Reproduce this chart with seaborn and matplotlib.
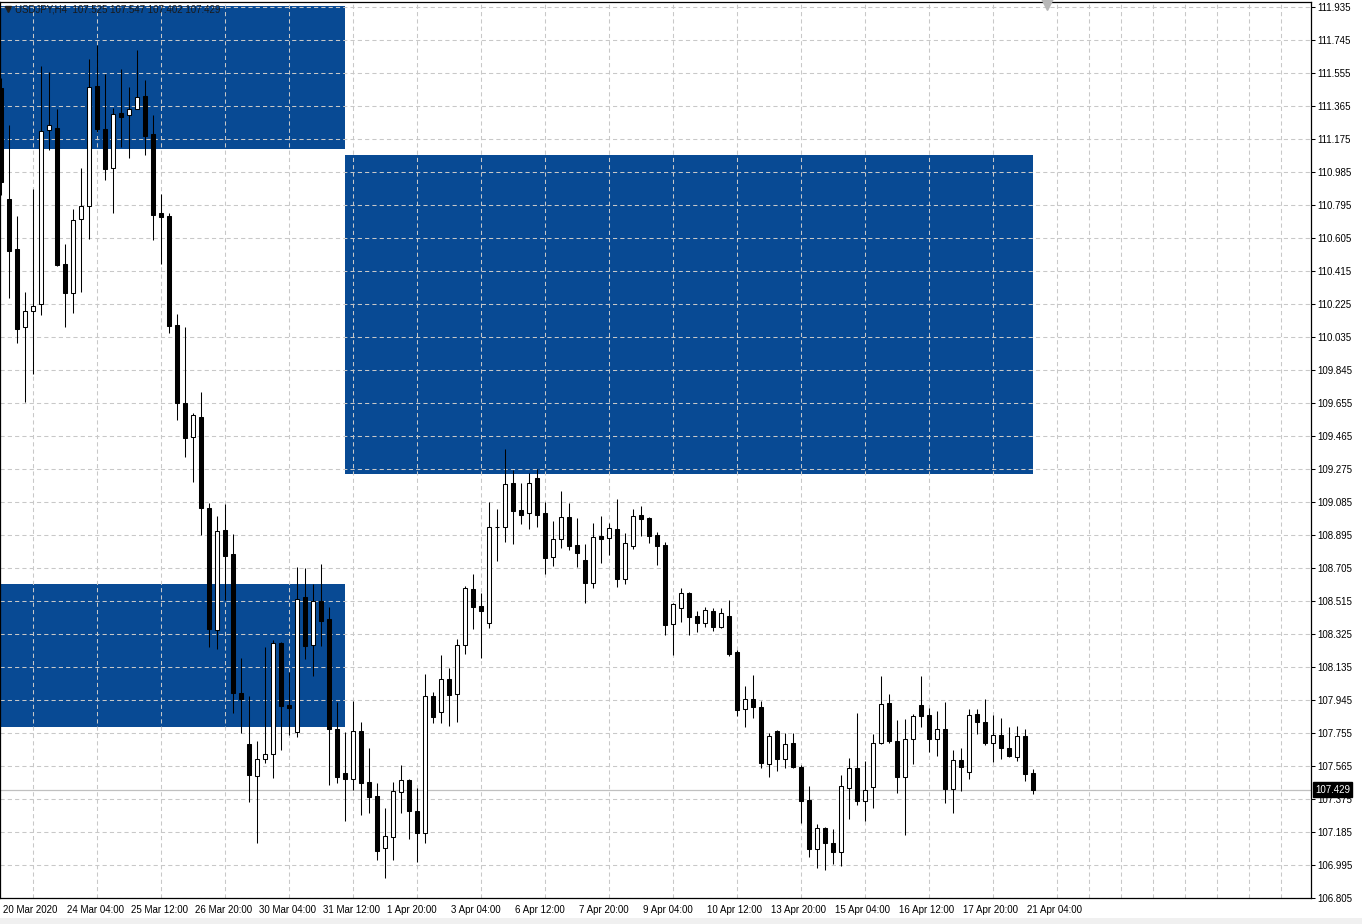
import numpy as np
import pandas as pd
import matplotlib
matplotlib.use("Agg")
import matplotlib.pyplot as plt
import matplotlib.transforms as mtransforms
from matplotlib.patches import Rectangle
import seaborn as sns

# ---------------- data ----------------
title_text = "USDJPY,H4  107.525 107.547 107.402 107.429"

opens = [111.469, 110.830, 110.542, 110.093, 110.185, 110.225, 111.227, 111.238, 110.455, 110.288,
         110.714, 110.789, 111.480, 111.233, 111.008, 111.325, 111.313, 111.348, 111.423, 111.204,
         110.749, 110.732, 110.104, 109.655, 109.459, 109.574, 109.050, 108.348, 108.924, 108.786,
         107.985, 107.692, 107.507, 107.605, 107.634, 108.273, 107.916, 107.761, 108.538, 108.262,
         108.515, 108.411, 107.778, 107.525, 107.490, 107.767, 107.473, 107.392, 107.093, 107.156,
         107.415, 107.484, 107.306, 107.179, 107.968, 107.876, 108.066, 107.980, 108.262, 108.584,
         108.486, 108.388, 108.941, 108.941, 109.194, 109.039, 109.022, 109.223, 109.022, 108.768,
         108.872, 108.999, 108.837, 108.751, 108.619, 108.889, 108.878, 108.930, 108.642, 108.832,
         109.010, 108.993, 108.895, 108.837, 108.383, 108.475, 108.561, 108.429, 108.388, 108.457,
         108.365, 108.429, 108.221, 107.893, 107.951, 107.905, 107.577, 107.767, 107.605, 107.697,
         107.559, 107.369, 107.087, 107.208, 107.122, 107.070, 107.438, 107.554, 107.363, 107.444,
         107.697, 107.928, 107.709, 107.502, 107.720, 107.916, 107.859, 107.720, 107.778, 107.433,
         107.600, 107.530, 107.864, 107.818, 107.697, 107.744, 107.669, 107.617, 107.738, 107.525]

highs = [111.526, 111.256, 110.732, 110.294, 110.887, 111.595, 111.561, 111.348, 110.570, 110.772,
         111.008, 111.636, 111.716, 111.549, 111.354, 111.578, 111.474, 111.687, 111.515, 111.313,
         110.858, 110.749, 110.167, 110.093, 109.597, 109.718, 109.079, 109.004, 109.074, 108.901,
         108.187, 107.968, 107.709, 108.250, 108.290, 108.279, 108.106, 108.711, 108.705, 108.613,
         108.728, 108.480, 107.934, 107.761, 107.939, 107.818, 107.669, 107.467, 107.323, 107.473,
         107.571, 107.490, 107.438, 108.095, 107.991, 108.204, 108.129, 108.296, 108.601, 108.670,
         108.561, 109.085, 109.045, 109.390, 109.269, 109.194, 109.252, 109.275, 109.085, 108.976,
         109.148, 109.079, 108.993, 108.843, 108.964, 109.004, 108.964, 109.102, 108.907, 109.045,
         109.062, 108.999, 108.912, 108.855, 108.504, 108.590, 108.565, 108.457, 108.480, 108.475,
         108.475, 108.521, 108.233, 108.026, 108.089, 107.939, 107.755, 107.772, 107.755, 107.755,
         107.571, 107.450, 107.231, 107.214, 107.202, 107.513, 107.611, 107.870, 107.594, 107.749,
         108.083, 107.980, 107.830, 107.836, 107.864, 108.083, 107.899, 107.882, 107.934, 107.657,
         107.669, 107.893, 107.893, 107.951, 107.859, 107.841, 107.790, 107.795, 107.778, 107.547]

lows = [110.853, 110.260, 110.000, 109.661, 109.822, 110.162, 111.112, 110.444, 110.093, 110.173,
        110.294, 110.599, 111.215, 110.939, 110.749, 111.129, 111.066, 111.345, 111.083, 110.594,
        110.455, 110.058, 109.557, 109.344, 109.200, 108.895, 108.250, 108.239, 108.521, 107.870,
        107.755, 107.358, 107.122, 107.582, 107.496, 107.657, 107.744, 107.732, 108.181, 108.083,
        108.256, 107.456, 107.467, 107.248, 107.427, 107.283, 107.294, 107.024, 106.920, 107.024,
        107.294, 107.145, 107.012, 107.122, 107.813, 107.813, 107.795, 107.818, 108.210, 108.354,
        108.187, 108.359, 108.745, 108.855, 108.843, 108.958, 108.930, 108.941, 108.670, 108.717,
        108.820, 108.809, 108.711, 108.504, 108.590, 108.734, 108.780, 108.596, 108.613, 108.814,
        108.889, 108.849, 108.722, 108.319, 108.204, 108.394, 108.319, 108.337, 108.365, 108.342,
        108.362, 108.198, 107.853, 107.790, 107.841, 107.554, 107.502, 107.536, 107.554, 107.552,
        107.237, 107.041, 106.978, 106.966, 107.001, 106.989, 107.260, 107.340, 107.248, 107.323,
        107.694, 107.697, 107.410, 107.168, 107.577, 107.790, 107.646, 107.623, 107.352, 107.294,
        107.421, 107.490, 107.749, 107.686, 107.588, 107.605, 107.617, 107.594, 107.479, 107.402]

closes = [110.927, 110.530, 110.081, 110.185, 110.214, 111.221, 111.256, 110.450, 110.288, 110.709,
          110.789, 111.474, 111.233, 111.002, 111.319, 111.302, 111.348, 111.417, 111.192, 110.737,
          110.726, 110.098, 109.655, 109.454, 109.586, 109.050, 108.354, 108.918, 108.774, 107.985,
          107.951, 107.513, 107.605, 107.634, 108.273, 107.910, 107.899, 108.527, 108.256, 108.515,
          108.400, 107.778, 107.502, 107.490, 107.767, 107.467, 107.387, 107.076, 107.162, 107.421,
          107.484, 107.306, 107.179, 107.968, 107.847, 108.066, 107.974, 108.262, 108.590, 108.480,
          108.457, 108.941, 108.943, 109.189, 109.033, 109.010, 109.194, 109.010, 108.763, 108.872,
          108.999, 108.832, 108.791, 108.619, 108.884, 108.872, 108.935, 108.642, 108.849, 109.004,
          108.987, 108.889, 108.832, 108.377, 108.498, 108.561, 108.423, 108.388, 108.463, 108.365,
          108.446, 108.210, 107.887, 107.951, 107.905, 107.582, 107.738, 107.605, 107.692, 107.559,
          107.363, 107.087, 107.208, 107.122, 107.070, 107.450, 107.554, 107.363, 107.427, 107.697,
          107.922, 107.709, 107.502, 107.720, 107.853, 107.853, 107.720, 107.778, 107.433, 107.600,
          107.559, 107.859, 107.818, 107.697, 107.744, 107.669, 107.623, 107.738, 107.519, 107.429]

time_labels = ["20 Mar 2020", "24 Mar 04:00", "25 Mar 12:00", "26 Mar 20:00", "30 Mar 04:00",
               "31 Mar 12:00", "1 Apr 20:00", "3 Apr 04:00", "6 Apr 12:00", "7 Apr 20:00",
               "9 Apr 04:00", "10 Apr 12:00", "13 Apr 20:00", "15 Apr 04:00", "16 Apr 12:00",
               "17 Apr 20:00", "21 Apr 04:00"]

price_tick_min = 106.805
price_tick_step = 0.19
price_tick_count = 28
last_price = 107.429

zone_start = [-3, 43, -3]
zone_end = [43, 129, 43]
zone_top = [111.940, 111.085, 108.613]
zone_bottom = [111.115, 109.246, 107.790]

# ---------------- style ----------------
sns.set_style("white")
plt.rcParams['font.family'] = ['Liberation Sans', 'DejaVu Sans']

W, H, DPI = 1362, 924, 100
fig = plt.figure(figsize=(W / DPI, H / DPI), dpi=DPI, facecolor="white")
ax_right_px, ax_top_px, ax_bot_px = 1311, 1.5, 898
ax = fig.add_axes([0.0, 1 - ax_bot_px / H, ax_right_px / W, (ax_bot_px - ax_top_px) / H])
ax.set_facecolor("white")

# light grey status strip at the very bottom
fig.patches.append(Rectangle((0, 0), 1, 6 / H, transform=fig.transFigure,
                             facecolor="#f0f0f0", edgecolor="none", zorder=0))

df = pd.DataFrame({"o": opens, "h": highs, "l": lows, "c": closes})
df["x"] = np.arange(len(df))
df["bull"] = df["c"] >= df["o"]
df["bottom"] = df[["o", "c"]].min(axis=1)
df["height"] = (df["c"] - df["o"]).abs()

px = 1 / 8.0  # candle spacing = 8 px
x0 = -1.3 * px
x1 = x0 + ax_right_px * px
ax.set_xlim(x0, x1)
ymax = 111.9753 - 0.0057576 * ax_top_px
ymin = 111.9753 - 0.0057576 * ax_bot_px
ax.set_ylim(ymin, ymax)

# zones
zone_color = "#084a94"
for s, e, t, b in zip(zone_start, zone_end, zone_top, zone_bottom):
    ax.add_patch(Rectangle((s, b), e - s, t - b, facecolor=zone_color, edgecolor="none", zorder=0.2))

# grid
yt = np.round(price_tick_min + price_tick_step * np.arange(price_tick_count), 3)
ax.set_yticks(yt)
ax.set_yticklabels([f"{v:.3f}" for v in yt])
major_x = np.arange(len(time_labels)) * 8
ax.set_xticks(major_x)
ax.set_xticklabels(time_labels, ha="left")
ax.set_xticks(np.arange(0, 164, 4), minor=True)
ax.set_axisbelow(True)
grid_kw = dict(color="#c8c8c8", linewidth=0.75, linestyle=(0, (4, 3)))
ax.grid(True, which="major", axis="y", **grid_kw)
ax.grid(True, which="minor", axis="x", **grid_kw)
ax.grid(False, which="major", axis="x")

# current price line
ax.axhline(last_price, color="#c0c0c0", lw=0.9, zorder=1)

# candles
lw = 0.75
ax.vlines(df["x"], df["l"], df["h"], color="black", lw=lw, zorder=3)
bull = df[df["bull"]]
bear = df[~df["bull"]]
ax.bar(bear["x"], bear["height"], bottom=bear["bottom"], width=0.5,
       color="black", edgecolor="black", linewidth=lw, zorder=4)
ax.bar(bull["x"], bull["height"], bottom=bull["bottom"], width=0.5,
       color="white", edgecolor="black", linewidth=lw, zorder=4)

# spines / ticks
for sp in ax.spines.values():
    sp.set_visible(True)
    sp.set_color("black")
    sp.set_linewidth(0.9)
ax.yaxis.tick_right()
ax.tick_params(axis="y", which="major", direction="out", length=3, width=0.75,
               pad=1.5, labelsize=7, labelcolor="black", color="black")
ax.tick_params(axis="x", which="major", direction="out", length=3, width=0.75,
               pad=2, labelsize=7, labelcolor="black", color="black")
ax.tick_params(axis="x", which="minor", length=0)
offset = mtransforms.ScaledTranslation(2 / DPI, 0, fig.dpi_scale_trans)
for lab in ax.get_xticklabels():
    lab.set_transform(lab.get_transform() + offset)

# last price label box
trans = mtransforms.blended_transform_factory(ax.transAxes, ax.transData)
ax.text(1.0 + 4 / ax_right_px, last_price, "107.429", transform=trans, ha="left", va="center",
        fontsize=7, color="white", zorder=10, clip_on=False,
        bbox=dict(boxstyle="square,pad=0.25", facecolor="black", edgecolor="black"))

# title
ax.plot([0.006], [0.9915], marker="v", color="#202020", ms=4.5, transform=ax.transAxes,
        clip_on=False, zorder=10)
ax.text(0.0115, 0.9915, title_text, transform=ax.transAxes, ha="left", va="center",
        fontsize=7, color="#1a1a1a", zorder=10)

# chart shift marker
ax.plot([130.7], [ymax - 0.012], marker="v", color="#b8b8b8", ms=8, clip_on=False, zorder=10)

fig.savefig("out.png", dpi=DPI, facecolor="white")
